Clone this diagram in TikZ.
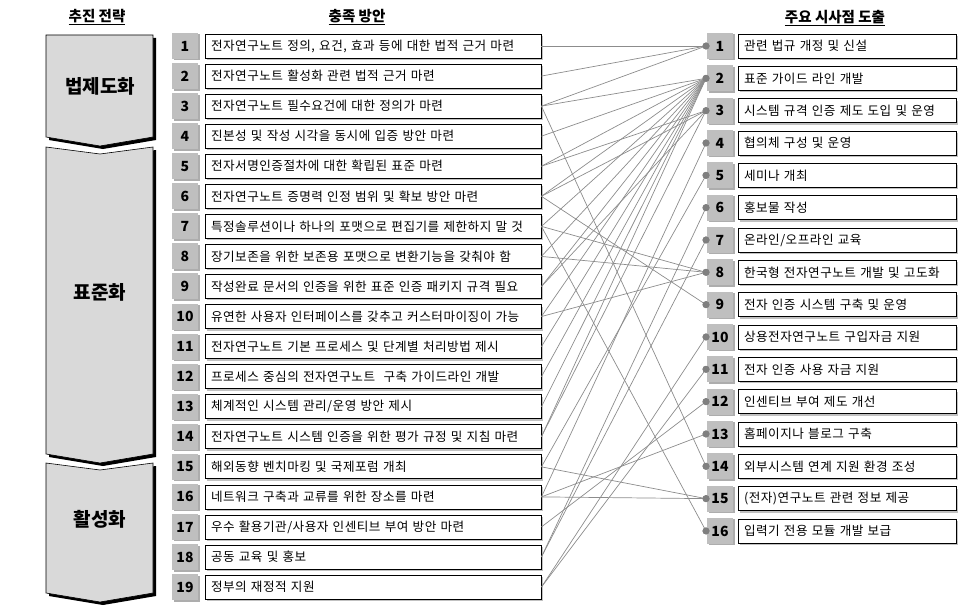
\documentclass[tikz,border=0pt]{standalone}
\usepackage{fontspec}
\setmainfont{Noto Sans CJK KR}
\newfontfamily\rowfont[WordSpace=1.3,LetterSpace=4]{Noto Sans CJK KR}
\usetikzlibrary{shadows}
\definecolor{numgray}{HTML}{BFBFBF}
\definecolor{shapegray}{HTML}{D9D9D9}
\definecolor{linegray}{HTML}{8C8C8C}
\definecolor{dotgray}{HTML}{7F7F7F}
\tikzset{
  numbox/.style={fill=numgray, minimum width=26pt, minimum height=26pt, inner sep=0pt,
    font=\fontsize{14}{14}\selectfont\bfseries,
    drop shadow={shadow xshift=1.5pt, shadow yshift=-1.5pt, fill=gray!80, opacity=0.8}},
  ltbox/.style={draw=black, fill=white, line width=0.8pt, minimum width=336pt, minimum height=24pt,
    inner sep=0pt, text width=324pt, align=left, font=\rowfont\fontsize{12.6}{12.6}\selectfont,
    drop shadow={shadow xshift=2pt, shadow yshift=-2pt, fill=gray!60, opacity=0.8}},
  rtbox/.style={ltbox, minimum width=218pt, text width=206pt},
  hdr/.style={font=\fontsize{14.5}{15}\selectfont\bfseries},
  stlabel/.style={font=\fontsize{19}{20}\selectfont\bfseries},
  conn/.style={draw=linegray, line width=0.7pt},
  rdot/.style={circle, fill=dotgray, minimum size=7pt, inner sep=0pt}
}
\begin{document}
\begin{tikzpicture}[x=1pt,y=-1pt]
\useasboundingbox (0,0) rectangle (969,610);
% headers
\node[hdr] (h1) at (97,17) {\underline{추진 전략}};
\node[hdr] (h2) at (357,17) {\underline{충족 방안}};
\node[hdr] (h3) at (835,18) {\underline{주요 시사점 도출}};
% strategy chevrons (shadow then shape)
\fill[black] (49,38) -- (156,38) -- (156,140) -- (103,149) -- (49,140) -- cycle;
\draw[fill=shapegray, line width=0.6pt] (46,35) -- (153,35) -- (153,137) -- (100,146) -- (46,137) -- cycle;
\fill[black] (49,150) -- (103,157) -- (156,150) -- (156,457) -- (103,466) -- (49,457) -- cycle;
\draw[fill=shapegray, line width=0.6pt] (46,147) -- (100,154) -- (153,147) -- (153,454) -- (100,463) -- (46,454) -- cycle;
\fill[black] (49,466) -- (103,473) -- (156,466) -- (156,596) -- (103,605) -- (49,596) -- cycle;
\draw[fill=shapegray, line width=0.6pt] (46,463) -- (100,470) -- (153,463) -- (153,593) -- (100,602) -- (46,593) -- cycle;
\node[stlabel] (s1) at (100,86) {법제도화};
\node[stlabel] (s2) at (100,292) {표준화};
\node[stlabel] (s3) at (100,519) {활성화};
% left rows
\foreach \i/\t in {1/{전자연구노트 정의, 요건, 효과 등에 대한 법적 근거 마련},
  2/{전자연구노트 활성화 관련 법적 근거 마련},
  3/{전자연구노트 필수요건에 대한 정의가 마련},
  4/{진본성 및 작성 시각을 동시에 입증 방안 마련},
  5/{전자서명인증절차에 대한 확립된 표준 마련},
  6/{전자연구노트 증명력 인정 범위 및 확보 방안 마련},
  7/{특정솔루션이나 하나의 포맷으로 편집기를 제한하지 말 것},
  8/{장기보존을 위한 보존용 포맷으로 변환기능을 갖춰야 함},
  9/{작성완료 문서의 인증을 위한 표준 인증 패키지 규격 필요},
  10/{유연한 사용자 인터페이스를 갖추고 커스터마이징이 가능},
  11/{전자연구노트 기본 프로세스 및 단계별 처리방법 제시},
  12/{프로세스 중심의 전자연구노트 \ 구축 가이드라인 개발},
  13/{체계적인 시스템 관리/운영 방안 제시},
  14/{전자연구노트 시스템 인증을 위한 평가 규정 및 지침 마련},
  15/{해외동향 벤치마킹 및 국제포럼 개최},
  16/{네트워크 구축과 교류를 위한 장소를 마련},
  17/{우수 활용기관/사용자 인센티브 부여 방안 마련},
  18/{공동 교육 및 홍보},
  19/{정부의 재정적 지원}} {
  \pgfmathsetmacro{\yy}{46+(\i-1)*30.06}
  \node[numbox] (ln\i) at (185,\yy) {\i};
  \node[ltbox] (lt\i) at (373,\yy) {\t};
}
% right rows
\foreach \j/\t in {1/{관련 법규 개정 및 신설},
  2/{표준 가이드 라인 개발},
  3/{시스템 규격 인증 제도 도입 및 운영},
  4/{협의체 구성 및 운영},
  5/{세미나 개최},
  6/{홍보물 작성},
  7/{온라인/오프라인 교육},
  8/{한국형 전자연구노트 개발 및 고도화},
  9/{전자 인증 시스템 구축 및 운영},
  10/{상용전자연구노트 구입자금 지원},
  11/{전자 인증 사용 자금 지원},
  12/{인센티브 부여 제도 개선},
  13/{홈페이지나 블로그 구축},
  14/{외부시스템 연계 지원 환경 조성},
  15/{(전자)연구노트 관련 정보 제공},
  16/{입력기 전용 모듈 개발 보급}} {
  \pgfmathsetmacro{\yy}{46+(\j-1)*32.33}
  \node[numbox] (rn\j) at (720,\yy) {\j};
  \node[rtbox] (rt\j) at (847,\yy) {\t};
  \node[rdot] (rd\j) at (706,\yy) {};
}
% connectors
\foreach \a/\b in {1/1,2/1,3/1,3/2,3/14,4/2,5/2,5/3,6/2,6/3,6/9,7/2,7/8,7/16,8/2,8/8,
  9/2,9/3,10/2,10/8,11/2,12/2,13/2,14/2,14/3,15/5,15/15,16/4,16/13,16/15,17/12,18/6,18/7,19/10,19/11} {
  \draw[conn] (lt\a.east) -- (rd\b.center);
}
\foreach \j in {1,...,16} { \node[rdot] at (rd\j) {}; }
\end{tikzpicture}
\end{document}
